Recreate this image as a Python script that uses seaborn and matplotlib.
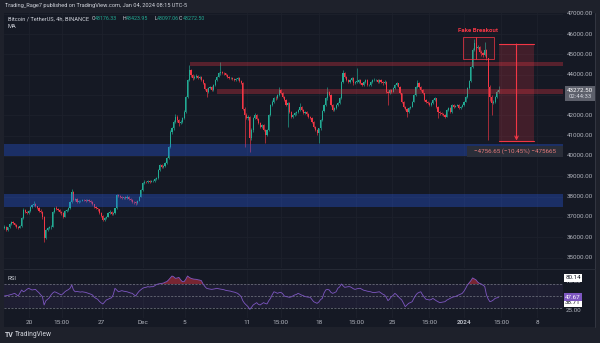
import numpy as np
import pandas as pd
import matplotlib
matplotlib.use("Agg")
import matplotlib.pyplot as plt
import matplotlib.transforms as mtransforms
from matplotlib.patches import Rectangle
import seaborn as sns

# ---------------- data: BTC/USDT 4h candles ----------------
first_open = 36450.0
closes = [
    36520, 36360, 36480, 36650, 36760, 36690, 36600, 36500, 36470, 36550,
    36950, 37340, 37260, 37200, 37290, 37500, 37580, 37640, 37520, 37440,
    37300, 37260, 37010, 35960, 36350, 36450, 36480, 36520, 37260, 37440,
    37380, 37340, 37250, 37180, 37010, 37290, 37350, 37420, 37750, 38240,
    37830, 37880, 37750, 37780, 37800, 37850, 37830, 37790, 37820, 37800,
    37750, 37620, 37500, 37420, 37370, 37180, 37050, 36850, 36950, 37010,
    37200, 37260, 37150, 37180, 37420, 38080, 38030, 38000, 37920, 37970,
    37930, 38000, 37880, 37820, 37750, 37720, 37670, 37800, 38000, 38330,
    38650, 38730, 38700, 38770, 38730, 38750, 38770, 38850, 38900, 39310,
    39560, 39480, 39520, 39640, 39890, 40420, 41200, 41380, 41690, 41940,
    41750, 41610, 41690, 41860, 42180, 42900, 43740, 44240, 43990, 43830,
    43910, 43950, 43830, 43910, 43740, 43580, 43300, 43170, 43340, 43410,
    43250, 43500, 43740, 43910, 44070, 44150, 44100, 44070, 43990, 43910,
    43830, 43860, 43790, 43740, 43790, 43830, 43700, 43600, 42300, 42020,
    41860, 41900, 40870, 41280, 41860, 42020, 41800, 41610, 41440, 41530,
    41280, 41030, 41280, 42020, 42500, 42680, 42870, 42840, 43000, 43250,
    43090, 42920, 42750, 42510, 42600, 42180, 41940, 42020, 42100, 42180,
    42270, 42430, 42270, 42100, 42180, 42050, 41940, 41860, 41690, 41440,
    41280, 41120, 41360, 41770, 42200, 42510, 42840, 43170, 43000, 42510,
    42270, 42350, 42510, 42600, 42840, 43660, 44070, 43910, 43740, 43660,
    43740, 43830, 43580, 43660, 43660, 43740, 43580, 43500, 43660, 43740,
    43500, 43500, 43660, 43740, 43740, 43740, 43660, 43740, 43660, 43580,
    43660, 43170, 43090, 43250, 43170, 43350, 43500, 43580, 43410, 43090,
    42680, 42430, 42300, 42180, 42350, 42430, 42680, 43000, 43410, 43580,
    43400, 43250, 43090, 42760, 42680, 42600, 42510, 42600, 42760, 42840,
    42430, 42180, 42100, 42060, 42020, 41940, 42270, 42350, 42180, 42510,
    42430, 42480, 42510, 42350, 42430, 42510, 42680, 42920, 43330, 43700,
    44400, 45220, 45550, 45300, 45380, 45140, 45050, 44980, 45220, 44810,
    43400, 42900, 42600, 42680, 42920, 43176.33, 43272.50,
]
highs = [
    36600, 36560, 36520, 36700, 36820, 36800, 36720, 36640, 36560, 36600,
    37000, 37420, 37380, 37300, 37350, 37560, 37650, 37760, 37680, 37560,
    37480, 37380, 37300, 37050, 36400, 36500, 36560, 36600, 37300, 37500,
    37520, 37450, 37400, 37300, 37220, 37320, 37400, 37480, 37800, 38370,
    38260, 37920, 37930, 37820, 37850, 37900, 37890, 37870, 37860, 37860,
    37850, 37800, 37660, 37540, 37460, 37400, 37220, 37100, 37000, 37060,
    37240, 37320, 37300, 37220, 37450, 38150, 38140, 38080, 38040, 38000,
    38020, 38060, 38040, 37920, 37860, 37800, 37760, 37840, 38050, 38380,
    38700, 38800, 38790, 38820, 38800, 38800, 38830, 38900, 38960, 39360,
    39600, 39620, 39560, 39700, 39950, 40480, 41300, 41450, 41750, 42050,
    42000, 41800, 41760, 41900, 42250, 42950, 43800, 44480, 44300, 44050,
    43980, 44050, 43990, 43960, 43950, 43780, 43620, 43360, 43400, 43460,
    43450, 43550, 43790, 43960, 44120, 44650, 44200, 44150, 44100, 44030,
    43950, 43900, 43900, 43830, 43830, 43880, 43880, 43760, 43650, 42400,
    42100, 42000, 41950, 41400, 41920, 42100, 42060, 41850, 41680, 41600,
    41580, 41330, 41320, 42060, 42560, 42760, 42920, 42950, 43050, 43410,
    43300, 43150, 42980, 42800, 42650, 42660, 42220, 42080, 42150, 42240,
    42320, 42600, 42480, 42300, 42240, 42230, 42100, 41990, 41900, 41720,
    41480, 41320, 41400, 41820, 42260, 42580, 42900, 43410, 43220, 43050,
    42560, 42400, 42560, 42660, 42900, 43700, 44240, 44120, 43960, 43800,
    43800, 43900, 43880, 43700, 44320, 43800, 43780, 43620, 43700, 43800,
    43780, 43560, 43700, 43800, 43820, 43800, 43790, 43780, 43780, 43700,
    43720, 43700, 43220, 43300, 43290, 43400, 43550, 43640, 43620, 43450,
    43120, 42720, 42480, 42350, 42400, 42480, 42720, 43050, 43460, 43740,
    43640, 43450, 43300, 43120, 42800, 42720, 42650, 42650, 42800, 42900,
    42880, 42480, 42230, 42150, 42110, 42060, 42320, 42400, 42400, 42560,
    42560, 42530, 42560, 42560, 42470, 42560, 42720, 42970, 43380, 43760,
    44450, 45300, 45750, 45600, 45450, 45420, 45200, 45100, 45630, 45250,
    44850, 43500, 43000, 42750, 42980, 43250, 43423.95,
]
lows = [
    36400, 36300, 36320, 36450, 36600, 36650, 36560, 36450, 36420, 36430,
    36520, 36900, 37200, 37120, 37150, 37250, 37450, 37520, 37480, 37400,
    37250, 37180, 36900, 35780, 35900, 36300, 36400, 36420, 36500, 37200,
    37320, 37280, 37200, 37100, 36950, 36980, 37250, 37300, 37400, 37700,
    37780, 37780, 37700, 37700, 37740, 37760, 37780, 37740, 37760, 37750,
    37700, 37580, 37450, 37380, 37300, 37150, 37000, 36780, 36820, 36900,
    36980, 37150, 37100, 37100, 37150, 37400, 37980, 37950, 37880, 37880,
    37880, 37900, 37850, 37780, 37700, 37660, 37600, 37640, 37780, 37960,
    38300, 38600, 38650, 38660, 38690, 38700, 38710, 38740, 38820, 38860,
    39280, 39420, 39430, 39480, 39600, 39850, 40380, 41100, 41300, 41620,
    41680, 41500, 41580, 41640, 41820, 42120, 42850, 43680, 43900, 43750,
    43780, 43860, 43780, 43790, 43700, 43540, 43250, 42920, 43120, 43300,
    43200, 43200, 43460, 43700, 43880, 44000, 44050, 44000, 43940, 43860,
    43780, 43780, 43740, 43690, 43700, 43750, 43650, 43550, 42250, 40460,
    41800, 41780, 40210, 40800, 41200, 41800, 41750, 41560, 41380, 41400,
    41220, 40630, 40980, 41250, 41980, 42440, 42620, 42780, 42800, 42950,
    43040, 42860, 42700, 42450, 41440, 42120, 41880, 41880, 41960, 42040,
    42120, 42220, 42220, 42050, 42060, 41990, 41880, 41800, 41640, 41400,
    41220, 41050, 40630, 41300, 41720, 42150, 42460, 42780, 42950, 42460,
    42200, 42200, 42300, 42450, 42560, 42800, 43600, 43850, 43700, 43600,
    43600, 43700, 43520, 43530, 43600, 43620, 43540, 43440, 43460, 43620,
    43450, 43440, 43460, 43620, 43680, 43680, 43620, 43620, 43620, 43520,
    43540, 43120, 42510, 43050, 43120, 43130, 43300, 43460, 43380, 43040,
    42620, 42380, 42250, 41940, 42130, 42300, 42400, 42640, 42960, 43360,
    43350, 43200, 43040, 42700, 42620, 42550, 42450, 42460, 42560, 42720,
    42380, 41860, 42040, 42000, 41970, 41880, 41900, 42220, 42120, 42140,
    42380, 42390, 42440, 42300, 42300, 42400, 42480, 42650, 42880, 43300,
    43650, 44350, 45150, 45250, 45250, 45080, 44950, 44900, 44950, 44750,
    40790, 42700, 42000, 42550, 42620, 42880, 43097.06,
]
rsi_values = [
    50.0, 50.5, 51.0, 51.7, 52.5, 53.5, 54.4, 52.0, 50.0, 55.0,
    60.0, 57.0, 58.5, 61.0, 62.8, 61.5, 60.0, 60.5, 61.0, 58.0,
    55.5, 52.0, 49.0, 35.0, 42.0, 44.5, 47.0, 51.7, 55.0, 57.0,
    56.0, 54.4, 53.0, 51.7, 54.0, 57.0, 59.0, 60.5, 62.8, 68.3,
    60.0, 57.0, 57.5, 57.0, 56.5, 57.0, 56.5, 56.0, 55.0, 54.0,
    53.0, 51.7, 48.0, 46.0, 44.5, 41.0, 38.5, 36.7, 40.0, 43.3,
    44.5, 46.0, 47.0, 52.0, 62.8, 60.0, 57.0, 58.0, 58.9, 58.0,
    57.5, 57.0, 56.0, 55.0, 54.4, 52.0, 50.0, 54.4, 58.0, 60.5,
    62.8, 64.0, 64.5, 65.5, 65.0, 65.5, 65.5, 67.0, 69.0, 70.0,
    70.5, 71.0, 71.5, 73.0, 73.9, 76.7, 80.0, 83.3, 82.0, 79.4,
    80.0, 81.0, 77.0, 73.9, 73.9, 78.0, 83.3, 81.0, 79.4, 78.5,
    78.0, 77.8, 77.0, 76.5, 75.6, 70.0, 66.0, 62.8, 62.0, 61.5,
    61.0, 61.5, 62.0, 62.8, 62.0, 61.5, 61.0, 60.5, 59.5, 58.9,
    58.5, 58.0, 57.0, 56.5, 55.5, 54.4, 52.0, 49.0, 42.0, 37.8,
    35.0, 32.2, 27.8, 31.0, 35.0, 37.0, 38.9, 36.0, 35.0, 37.0,
    38.9, 37.5, 36.7, 42.0, 46.0, 52.0, 57.0, 56.0, 54.4, 55.5,
    56.0, 54.0, 50.0, 49.0, 48.5, 47.8, 48.5, 50.0, 51.7, 52.5,
    54.4, 53.0, 51.5, 50.5, 49.0, 48.5, 48.0, 47.8, 44.0, 40.5,
    39.0, 37.8, 40.0, 44.0, 46.0, 55.0, 60.0, 61.0, 60.0, 56.0,
    54.4, 55.5, 57.0, 62.8, 65.0, 70.0, 67.0, 64.4, 65.0, 65.5,
    65.5, 64.0, 62.0, 61.0, 62.0, 62.5, 62.8, 61.0, 59.5, 58.9,
    58.0, 57.5, 57.0, 56.0, 55.6, 56.0, 56.5, 57.0, 55.0, 53.0,
    51.7, 48.0, 42.2, 45.0, 49.0, 51.0, 54.4, 52.0, 49.0, 46.0,
    43.3, 38.0, 32.2, 35.0, 37.8, 39.0, 40.5, 46.0, 51.0, 54.4,
    56.0, 57.0, 52.0, 48.0, 44.5, 44.0, 43.3, 44.0, 46.0, 44.0,
    42.0, 40.5, 38.9, 39.5, 40.0, 40.5, 43.0, 44.5, 46.0, 47.5,
    48.5, 49.0, 50.5, 51.7, 53.0, 54.4, 58.0, 62.8, 68.3, 72.0,
    75.6, 80.14, 78.5, 76.7, 73.0, 71.0, 70.0, 68.0, 66.0, 52.0,
    45.0, 40.5, 41.5, 43.3, 46.0, 46.8, 47.67,
]
first_candle = "2023-11-17 15:00"
axis_origin = "2023-11-20 00:00"

price_ticks = [35000, 36000, 37000, 38000, 39000, 40000, 41000, 42000,
               44000, 45000, 46000, 47000]
time_tick_days = [0, 3.15, 7, 11, 15, 21, 24.28, 28, 31.54, 35, 38.58, 42, 45.56, 49]
time_tick_labels = ["20", "15:00", "27", "Dec", "5", "11", "15:00", "18", "15:00",
                    "25", "15:00", "2024", "15:00", "8"]

support_zones = [(40000, 40580), (37500, 38120)]          # blue demand zones
resistance_zones = [(15.53, 44450, 44650), (18.10, 43060, 43290)]  # start day, low, high
breakout_box = (41.86, 43.12, 44.85, 44780, 45860)        # x0, xmid, x1, low, high
measure_top, measure_bottom = 45515.00, 40758.35
measure_days = (45.34, 48.71)
last_price = 43272.50
rsi_last = 47.67

# ---------------- style ----------------
sns.set_style("dark")
plt.rcParams["font.family"] = ["Roboto", "DejaVu Sans"]
FRAME = "#1e212b"
BG = "#151924"
GRID = "#1d212c"
TXT = "#b2b5be"
UP = "#22ab94"
DOWN = "#f23645"
PURPLE = "#7e57c2"
BLUE = "#2962ff"

W, H = 600, 343
def fx(px):
    return px / W
def fy(py):
    return 1 - py / H

times = pd.date_range(first_candle, periods=len(closes), freq="4h")
t_days = ((times - pd.Timestamp(axis_origin)).total_seconds() / 86400.0).to_numpy()
opens = [first_open] + closes[:-1]
df = pd.DataFrame({"t": t_days, "open": opens, "high": highs, "low": lows,
                   "close": closes, "rsi": rsi_values})
df["high"] = df[["high", "open", "close"]].max(axis=1)
df["low"] = df[["low", "open", "close"]].min(axis=1)

fig = plt.figure(figsize=(6.0, 3.43), dpi=100)
fig.patch.set_facecolor(FRAME)
fig.add_artist(Rectangle((fx(4), fy(327)), fx(595) - fx(4), fy(13) - fy(327),
                         transform=fig.transFigure, facecolor=BG, edgecolor="none", zorder=0))
fig.add_artist(plt.Line2D([fx(595), fx(595)], [fy(13), fy(327)], transform=fig.transFigure,
                          color="#363a45", lw=0.6))

px_per_day = 10.367
xlim = ((4 - 29) / px_per_day, (563 - 29) / px_per_day)

ax = fig.add_axes([fx(4), fy(268), fx(563) - fx(4), fy(13) - fy(268)])
ax_r = fig.add_axes([fx(4), fy(318), fx(563) - fx(4), fy(270) - fy(318)])
for a in (ax, ax_r):
    a.set_facecolor(BG)
    a.set_xlim(*xlim)
    a.set_xticks([])
    a.set_yticks([])
    for s in a.spines.values():
        s.set_visible(False)
ax.set_ylim(34483, 47044)
ax_r.set_ylim(13.3, 93.3)

# grid
for d in time_tick_days:
    ax.axvline(d, color=GRID, lw=0.6, zorder=1)
    ax_r.axvline(d, color=GRID, lw=0.6, zorder=1)
for p in price_ticks + [43000]:
    ax.axhline(p, color=GRID, lw=0.6, zorder=1)
fig.add_artist(plt.Line2D([fx(4), fx(595)], [fy(269), fy(269)], transform=fig.transFigure,
                          color="#2a2e39", lw=0.6))

# candles
up = df["close"] >= df["open"]
colors = np.where(up, UP, DOWN)
ax.vlines(df["t"], df["low"], df["high"], colors=colors, lw=0.45, zorder=3)
body_lo = df[["open", "close"]].min(axis=1)
body_h = (df["close"] - df["open"]).abs().clip(lower=20)
ax.bar(df["t"], body_h, bottom=body_lo, width=0.11, color=colors, lw=0, zorder=3)

# zones
for lo, hi in support_zones:
    ax.add_patch(Rectangle((xlim[0], lo), xlim[1] - xlim[0], hi - lo,
                           facecolor=BLUE, alpha=0.3, edgecolor="none", zorder=4))
for x0, lo, hi in resistance_zones:
    ax.add_patch(Rectangle((x0, lo), xlim[1] - x0, hi - lo,
                           facecolor=DOWN, alpha=0.3, edgecolor="none", zorder=4))

# fake breakout boxes
bx0, bxm, bx1, blo, bhi = breakout_box
for a0, a1 in ((bx0, bxm), (bxm, bx1)):
    ax.add_patch(Rectangle((a0, blo), a1 - a0, bhi - blo, facecolor=DOWN, alpha=0.07,
                           edgecolor="none", zorder=5))
    ax.add_patch(Rectangle((a0, blo), a1 - a0, bhi - blo, facecolor="none",
                           edgecolor=DOWN, alpha=0.75, lw=0.7, zorder=5))
ax.text((bx0 + bx1) / 2, bhi + 190, "Fake Breakout", color=DOWN, fontsize=4.4,
        fontweight="bold", ha="center", va="bottom", zorder=6)

# price-range measure
m0, m1 = measure_days
ax.add_patch(Rectangle((m0, measure_bottom), m1 - m0, measure_top - measure_bottom,
                       facecolor=DOWN, alpha=0.2, edgecolor="none", zorder=5))
ax.plot([m0, m1], [measure_top, measure_top], color=DOWN, lw=0.8, zorder=6)
ax.plot([m0, m1], [measure_bottom, measure_bottom], color=DOWN, lw=0.8, zorder=6)
mc = (m0 + m1) / 2
ax.annotate("", xy=(mc, measure_bottom), xytext=(mc, measure_top),
            arrowprops=dict(arrowstyle="->", color=DOWN, lw=0.8,
                            mutation_scale=6, shrinkA=0, shrinkB=0), zorder=6)
delta = measure_bottom - measure_top
pct = delta / measure_top * 100
mlabel = f"\u2212{abs(delta):.2f} (\u2212{abs(pct):.2f}%) \u2212{abs(delta)*100:.0f}"
fig.add_artist(Rectangle((fx(467), fy(157)), fx(563) - fx(467), fy(146) - fy(157),
                         transform=fig.transFigure, facecolor="#2a2e39", edgecolor="none", zorder=7))
fig.text(fx(515), fy(151.5), mlabel, color="#e77b7b", fontsize=4.5, ha="center",
         va="center", zorder=8)

# right price scale
ptr = mtransforms.blended_transform_factory(fig.transFigure, ax.transData)
for p in price_ticks:
    fig.text(fx(567), p, f"{p:.2f}", transform=ptr, color=TXT, fontsize=4.5,
             va="center", ha="left")
fig.add_artist(Rectangle((fx(565), fy(101)), fx(595) - fx(565), fy(86) - fy(101),
                         transform=fig.transFigure, facecolor="#5d606b", edgecolor="none", zorder=7))
fig.text(fx(580), fy(90.5), f"{last_price:.2f}", color="white", fontsize=4.5,
         ha="center", va="center", zorder=8)
fig.text(fx(580), fy(97), "02:44:33", color="#d1d4dc", fontsize=4.3,
         ha="center", va="center", zorder=8)

# RSI pane
ax_r.axhspan(30, 70, color=PURPLE, alpha=0.09, lw=0, zorder=1)
for lvl in (70, 50, 30):
    ax_r.axhline(lvl, color="#787b86", lw=0.5, ls=(0, (3, 2)), zorder=2)
rsi = df["rsi"].to_numpy()
ax_r.fill_between(df["t"], 70, rsi, where=rsi > 70, interpolate=True,
                  color=DOWN, alpha=0.45, lw=0, zorder=2)
ax_r.fill_between(df["t"], 30, rsi, where=rsi < 30, interpolate=True,
                  color=UP, alpha=0.45, lw=0, zorder=2)
sns.lineplot(data=df, x="t", y="rsi", ax=ax_r, color=PURPLE, lw=0.6, zorder=3)
ax_r.set_xlabel("")
ax_r.set_ylabel("")
ax_r.set_xticks([])
ax_r.set_yticks([])
ax_r.set_xlim(*xlim)
fig.text(fx(8), fy(278), "RSI", color="#d1d4dc", fontsize=4.3, va="center")

rtr = mtransforms.blended_transform_factory(fig.transFigure, ax_r.transData)
fig.text(fx(566), 25, "25.00", transform=rtr, color=TXT, fontsize=4.5, va="center")
fig.text(fx(566), 74.2, "75.00", transform=rtr, color=TXT, fontsize=4.5, va="center")
def rsi_box(val, face, tc):
    fig.text(fx(573), val, f"{val:.2f}", transform=rtr, color=tc, fontsize=4.5,
             ha="center", va="center", zorder=8,
             bbox=dict(boxstyle="square,pad=0.25", fc=face, ec="none"))
rsi_box(80.14, "white", "#131722")
rsi_box(38.71, "white", "#131722")
rsi_box(rsi_last, PURPLE, "white")

# time axis labels
ttr = mtransforms.blended_transform_factory(ax_r.transData, fig.transFigure)
for d, lab in zip(time_tick_days, time_tick_labels):
    fig.text(d, fy(322), lab, transform=ttr, color=TXT, fontsize=4.6, ha="center",
             va="center", fontweight="bold" if lab == "2024" else "normal")

# header
fig.text(fx(5), fy(6), "Trading_Rage7 published on TradingView.com, Jan 04, 2024 08:15 UTC-5",
         color="#d1d4dc", fontsize=4.1, va="center")
fig.text(fx(8), fy(19), "Bitcoin / TetherUS, 4h, BINANCE", color="#d1d4dc",
         fontsize=4.1, va="center")
ohlc = [("O", 91.7, 95.2, opens[-1]), ("H", 122.7, 126.2, highs[-1]),
        ("L", 154.3, 157.0, lows[-1]), ("C", 179.0, 182.6, closes[-1])]
for letter, lx, vx, val in ohlc:
    fig.text(fx(lx), fy(19), letter, color="#d1d4dc", fontsize=3.8, va="center")
    fig.text(fx(vx), fy(19), f"{val:.2f}", color=UP, fontsize=3.8, va="center")
fig.text(fx(8), fy(27), "MA", color="#d1d4dc", fontsize=4.1, va="center")

# footer
fig.text(fx(5), fy(335), "TV", color="#d1d4dc", fontsize=5.0, fontweight="bold", va="center")
fig.text(fx(15), fy(335), "TradingView", color="#d1d4dc", fontsize=4.8, va="center")

fig.savefig("out.png", dpi=100, facecolor=FRAME)
